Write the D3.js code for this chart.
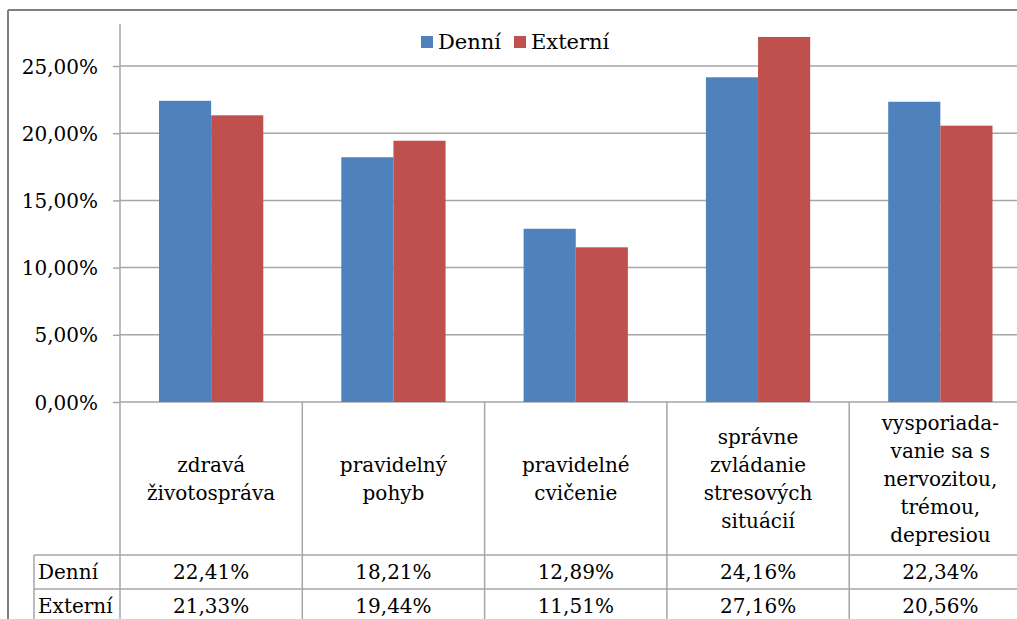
<!DOCTYPE html>
<html>
<head>
<meta charset="utf-8">
<script src="https://cdn.jsdelivr.net/npm/d3@7"></script>
<style>
  html, body { margin: 0; padding: 0; background: #fff; }
  svg { display: block; }
</style>
</head>
<body>
<svg id="chart" width="1017" height="619"></svg>
<script>
// Categories (each one split into the lines shown in the data-table header)
const categories = [
  ["zdravá", "životospráva"],
  ["pravidelný", "pohyb"],
  ["pravidelné", "cvičenie"],
  ["správne", "zvládanie", "stresových", "situácií"],
  ["vysporiada-", "vanie sa s", "nervozitou,", "trémou,", "depresiou"]
];
const seriesNames = ["Denní", "Externí"];
const denni   = [22.41, 18.21, 12.89, 24.16, 22.34];
const externi = [21.33, 19.44, 11.51, 27.16, 20.56];
const yTicks  = [0, 5, 10, 15, 20, 25];
const colors  = ["#4F81BD", "#C0504D"];

const FONT = "'DejaVu Serif', 'Liberation Serif', 'Times New Roman', serif";

const svg = d3.select("#chart");
const W = 1017, H = 619;

// Plot geometry
const plotLeft = 120, plotRight = 1031.5, plotBottom = 402, plotTop = 24;
const headerBottom = 555, row1Bottom = 589, row2Bottom = 623;
const tableLeft = 34;
const grid = "#a6a6a6";

const x = d3.scaleBand()
  .domain(d3.range(categories.length))
  .range([plotLeft, plotRight])
  .paddingInner(0.428)
  .paddingOuter(0.214);
const xs = d3.scaleBand().domain([0, 1]).range([0, x.bandwidth()]);
const y = d3.scaleLinear().domain([0, 28]).range([plotBottom, plotBottom - 28 * 13.44]);

const fmt = v => d3.format(".2f")(v).replace(".", ",") + "%";

function label(g, tx, ty, str, size, anchor) {
  return g.append("text")
    .attr("transform", `translate(${tx},${ty})`)
    .attr("text-anchor", anchor || "middle")
    .attr("fill", "#000")
    .style("font-family", FONT)
    .style("font-size", size + "px")
    .text(str);
}

// Outer frame
svg.append("line").attr("x1", 8).attr("x2", W).attr("y1", 10).attr("y2", 10)
  .attr("stroke", "#7f7f7f").attr("stroke-width", 2);
svg.append("line").attr("x1", 8).attr("x2", 8).attr("y1", 10).attr("y2", H)
  .attr("stroke", "#7f7f7f").attr("stroke-width", 2);

// Gridlines and y axis
const yAxis = d3.axisLeft(y).tickValues(yTicks).tickSize(7).tickFormat(fmt);
const gAxis = svg.append("g").attr("transform", `translate(${plotLeft},0)`).call(yAxis);
gAxis.select(".domain").remove();
gAxis.selectAll(".tick line").attr("stroke", grid).attr("stroke-width", 1.5);
gAxis.selectAll(".tick text").remove();
gAxis.selectAll(".tick").each(function(d) {
  label(d3.select(this), -22, 7, fmt(d), 20, "end");
});

svg.append("g").selectAll("line").data(yTicks).join("line")
  .attr("x1", plotLeft).attr("x2", W)
  .attr("y1", d => y(d)).attr("y2", d => y(d))
  .attr("stroke", grid).attr("stroke-width", 1.5);

svg.append("line").attr("x1", plotLeft).attr("x2", plotLeft)
  .attr("y1", plotTop).attr("y2", H)
  .attr("stroke", grid).attr("stroke-width", 1.5);

// Bars
const series = [denni, externi];
series.forEach((vals, si) => {
  svg.append("g").selectAll("rect").data(vals).join("rect")
    .attr("x", (d, i) => x(i) + xs(si))
    .attr("width", xs.bandwidth())
    .attr("y", d => y(d))
    .attr("height", d => y(0) - y(d))
    .attr("fill", colors[si]);
});

// Data table
const step = x.step();
const colEdges = d3.range(categories.length + 1).map(i => plotLeft + i * step);
svg.append("g").selectAll("line").data(colEdges.slice(1)).join("line")
  .attr("x1", d => d).attr("x2", d => d)
  .attr("y1", plotBottom).attr("y2", H)
  .attr("stroke", grid).attr("stroke-width", 1.5);
svg.append("line").attr("x1", tableLeft).attr("x2", tableLeft)
  .attr("y1", headerBottom).attr("y2", H).attr("stroke", grid).attr("stroke-width", 1.5);
[headerBottom, row1Bottom].forEach(yy => {
  svg.append("line").attr("x1", tableLeft).attr("x2", W)
    .attr("y1", yy).attr("y2", yy).attr("stroke", grid).attr("stroke-width", 1.5);
});

// Category header text
const lineH = 28;
const headerMid = (plotBottom + headerBottom) / 2;
categories.forEach((lines, i) => {
  const cx = plotLeft + (i + 0.5) * step;
  const g = svg.append("g");
  lines.forEach((ln, k) => {
    const cy = headerMid + (k - (lines.length - 1) / 2) * lineH;
    label(g, cx, cy + 7, ln, 20, "middle");
  });
});

// Row values
const rowTops = [headerBottom, row1Bottom];
series.forEach((vals, si) => {
  const cy = (rowTops[si] + [row1Bottom, row2Bottom][si]) / 2;
  label(svg, tableLeft + 4, cy + 7, seriesNames[si], 20, "start");
  vals.forEach((v, i) => {
    label(svg, plotLeft + (i + 0.5) * step, cy + 7, fmt(v), 20, "middle");
  });
});

// Legend
const legend = svg.append("g");
const legendItems = [{ name: seriesNames[0], x: 421 }, { name: seriesNames[1], x: 514 }];
legendItems.forEach((it, i) => {
  legend.append("rect").attr("x", it.x).attr("y", 36).attr("width", 12).attr("height", 12)
    .attr("fill", colors[i]);
  label(legend, it.x + 17, 49, it.name, 21, "start");
});
</script>
</body>
</html>
